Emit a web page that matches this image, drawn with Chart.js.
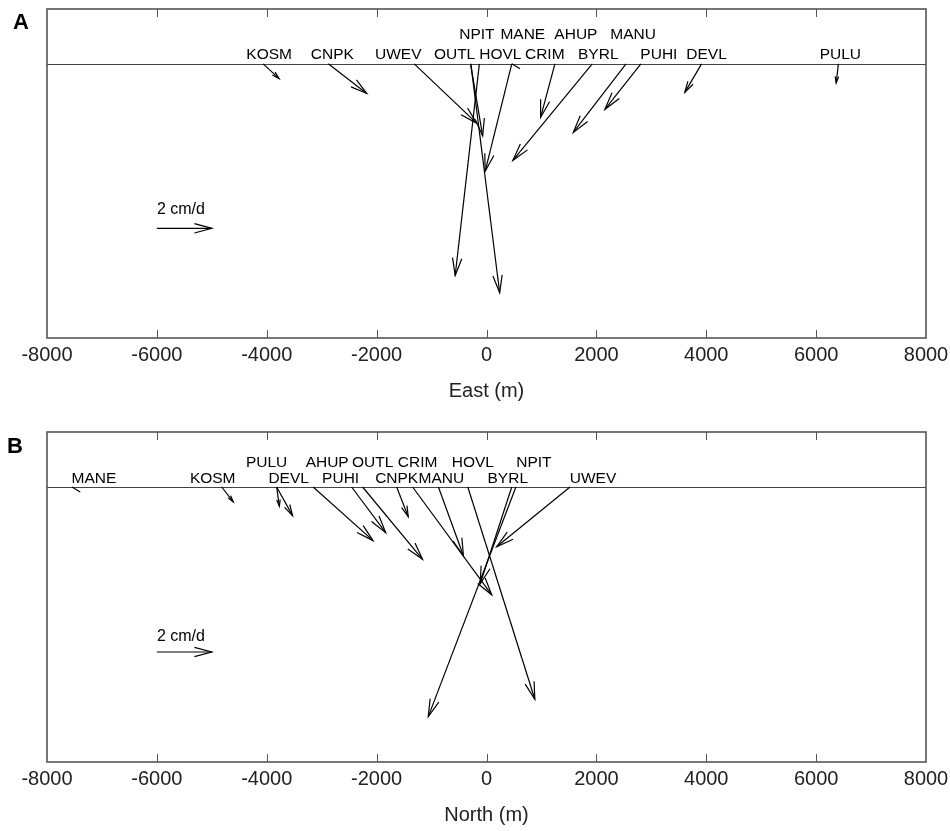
<!DOCTYPE html>
<html>
<head>
<meta charset="utf-8">
<script src="https://cdn.jsdelivr.net/npm/chart.js@4.4.1/dist/chart.umd.min.js"></script>
<style>
  body { margin: 0; background: #fff; overflow: hidden; }
  canvas { display: block; }
</style>
</head>
<body>
<canvas id="chartA" width="950" height="415"></canvas>
<canvas id="chartB" width="950" height="416"></canvas>
<script>
// stations, same order in both panels
const stations = ['KOSM', 'CNPK', 'UWEV', 'OUTL', 'NPIT', 'HOVL', 'MANE', 'CRIM', 'AHUP', 'BYRL', 'MANU', 'PUHI', 'DEVL', 'PULU'];
// vertical velocity (cm/d, down is negative)
const upVel = [-0.54, -1.08, -2.17, -2.63, -8.35, -7.72, -0.18, -3.92, -1.95, -3.52, -2.50, -1.66, -1.04, -0.70];
// panel A: east position (m) and east velocity (cm/d)
const eastPos = [-4065, -2880, -1315, -290, -285, -130, 460, 460, 1245, 1925, 2540, 2810, 3915, 6405];
const eastVel = [0.58, 1.40, 2.28, 0.44, 1.05, -0.88, 0.30, -0.97, -0.52, -2.89, -1.92, -1.31, -0.61, -0.08];
// panel B: north position (m) and north velocity (cm/d)
const northPos = [-4820, -1635, 1520, -2255, 535, -340, -7545, -1345, -3155, 460, -875, -2455, -3820, -3820];
const northVel = [0.42, 0.42, -2.67, 2.18, -3.19, 2.44, 0.30, 2.88, 2.18, -1.15, 0.91, 1.24, 0.58, 0.10];
// scale arrow
const refVel = 2; // cm/d
const refLabel = '2 cm/d';
const xTicks = [-8000, -6000, -4000, -2000, 0, 2000, 4000, 6000, 8000];

const M_PER_CMD = 500; // plot metres per cm/d of velocity
const FONT = "'Liberation Sans', Arial, Helvetica, sans-serif";

// label layout (pixels), kept apart from the data
const rowA = [2, 2, 2, 2, 1, 2, 1, 2, 1, 2, 1, 2, 2, 2];
const shiftA = [6, 4, -16, -16, 6, 21, 11, 33, 21, 6, 7, 18, 5, 2];
const rowB = [2, 2, 2, 1, 1, 1, 2, 1, 1, 2, 2, 2, 2, 1];
const shiftB = [-9, 0, 23, 10, 18, 5, 22, 5, 14, -4, 3, -11, 12, -10];

const arrowPlugin = {
  id: 'arrows',
  beforeDatasetsDraw(chart, args, o) {
    const ctx = chart.ctx, a = chart.chartArea, x = chart.scales.x, y = chart.scales.y;
    ctx.save();
    // baseline at zero
    const y0 = Math.round(y.getPixelForValue(0)) + 0.5;
    ctx.strokeStyle = '#444';
    ctx.lineWidth = 1;
    ctx.beginPath();
    ctx.moveTo(a.left, y0); ctx.lineTo(a.right, y0);
    ctx.stroke();
    // frame and inner ticks
    ctx.strokeStyle = '#555';
    ctx.lineWidth = 1.6;
    ctx.strokeRect(a.left, a.top, a.right - a.left, a.bottom - a.top);
    ctx.lineWidth = 1;
    ctx.beginPath();
    xTicks.slice(1, -1).forEach(v => {
      const px = Math.round(x.getPixelForValue(v)) + 0.5;
      ctx.moveTo(px, a.bottom); ctx.lineTo(px, a.bottom - 8);
      ctx.moveTo(px, a.top); ctx.lineTo(px, a.top + 8);
    });
    ctx.stroke();
    ctx.restore();
  },
  afterDatasetsDraw(chart, args, o) {
    const ctx = chart.ctx;
    ctx.save();
    ctx.strokeStyle = '#000';
    ctx.lineWidth = 1.2;
    chart.data.datasets.forEach((ds, i) => {
      const pts = chart.getDatasetMeta(i).data;
      const p0 = pts[0], p1 = pts[1];
      const dx = p1.x - p0.x, dy = p1.y - p0.y;
      const len = Math.hypot(dx, dy);
      if (len < 12) return;
      const L = Math.min(18, len * 0.35), ang = 15 * Math.PI / 180;
      const th = Math.atan2(dy, dx);
      ctx.beginPath();
      ctx.moveTo(p1.x - L * Math.cos(th - ang), p1.y - L * Math.sin(th - ang));
      ctx.lineTo(p1.x, p1.y);
      ctx.lineTo(p1.x - L * Math.cos(th + ang), p1.y - L * Math.sin(th + ang));
      ctx.stroke();
    });
    // station labels
    ctx.fillStyle = '#000';
    ctx.font = '15.5px ' + FONT;
    ctx.textAlign = 'center';
    ctx.textBaseline = 'middle';
    stations.forEach((s, i) => {
      const p = chart.getDatasetMeta(i).data[0];
      const up = o.rows[i] === 1 ? o.row1 : o.row2;
      ctx.fillText(s, p.x + o.shift[i], p.y - up);
    });
    // scale arrow label
    const r = chart.getDatasetMeta(stations.length).data[0];
    ctx.font = '16px ' + FONT;
    ctx.textAlign = 'left';
    ctx.fillText(refLabel, r.x, r.y - o.refUp);
    // panel letter
    ctx.font = 'bold 22px ' + FONT;
    ctx.textAlign = 'center';
    ctx.fillText(o.letter, o.letterX, o.letterY);
    ctx.restore();
  }
};

function makeChart(id, pos, vel, title, opts) {
  const datasets = stations.map((s, i) => ({
    label: s,
    data: [{ x: pos[i], y: 0 }, { x: pos[i] + vel[i] * M_PER_CMD, y: upVel[i] * M_PER_CMD }],
    showLine: true,
    borderColor: '#000',
    borderWidth: 1.2,
    pointRadius: 0
  }));
  datasets.push({
    label: refLabel,
    data: [{ x: -6000, y: -3000 }, { x: -6000 + refVel * M_PER_CMD, y: -3000 }],
    showLine: true,
    borderColor: '#000',
    borderWidth: 1.2,
    pointRadius: 0
  });
  return new Chart(document.getElementById(id), {
    type: 'scatter',
    data: { datasets },
    options: {
      responsive: false,
      animation: false,
      layout: { padding: { left: 47, right: 24, top: opts.top, bottom: 0 } },
      plugins: { legend: { display: false }, tooltip: { enabled: false }, arrows: opts },
      scales: {
        x: {
          type: 'linear', min: -8000, max: 8000,
          afterBuildTicks: sc => { sc.ticks = xTicks.map(v => ({ value: v })); },
          ticks: { color: '#222', padding: 5, maxRotation: 0, autoSkip: false, font: { size: 20, family: FONT }, callback: v => String(v) },
          grid: { display: false, drawTicks: false },
          border: { display: false },
          title: { display: true, text: title, color: '#222', font: { size: 20, family: FONT }, padding: { top: 0, bottom: opts.titlePad } },
          afterFit: sc => { sc.height = opts.axisH; sc.paddingLeft = 0; sc.paddingRight = 0; }
        },
        y: { type: 'linear', min: -5000, max: 1000, display: false }
      }
    },
    plugins: [arrowPlugin]
  });
}

makeChart('chartA', eastPos, eastVel, 'East (m)', {
  top: 9, axisH: 77, titlePad: 11.5, rows: rowA, shift: shiftA, row1: 29, row2: 9.5, refUp: 19,
  letter: 'A', letterX: 21, letterY: 23
});
makeChart('chartB', northPos, northVel, 'North (m)', {
  top: 17, axisH: 69, titlePad: 3.5, rows: rowB, shift: shiftB, row1: 24, row2: 8, refUp: 15,
  letter: 'B', letterX: 15, letterY: 32
});
</script>
</body>
</html>
